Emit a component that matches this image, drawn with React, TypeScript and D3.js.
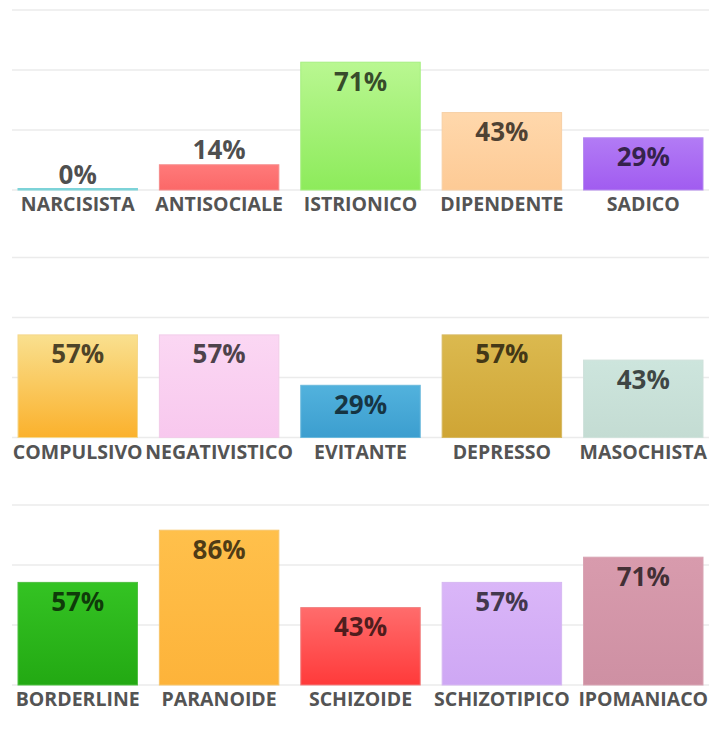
import React from "react";
import * as d3 from "d3";

const categories1 = ["NARCISISTA", "ANTISOCIALE", "ISTRIONICO", "DIPENDENTE", "SADICO"];
const values1 = [0, 14, 71, 43, 29];
const categories2 = ["COMPULSIVO", "NEGATIVISTICO", "EVITANTE", "DEPRESSO", "MASOCHISTA"];
const values2 = [57, 57, 29, 57, 43];
const categories3 = ["BORDERLINE", "PARANOIDE", "SCHIZOIDE", "SCHIZOTIPICO", "IPOMANIACO"];
const values3 = [57, 86, 43, 57, 71];

const gridTicks = [0, 100 / 3, 200 / 3, 100];

const colors1 = [
  ["#7dd3d8", "#7dd3d8", "#7dd3d8"],
  ["#ff7a7a", "#fb6868", "#f58a8a"],
  ["#b9f791", "#8deb5b", "#a6ef80"],
  ["#ffd8ac", "#fdca95", "#f7cfa4"],
  ["#b27bf5", "#a15cf0", "#b58af0"],
];
const colors2 = [
  ["#f9e08f", "#fbb12c", "#f5d88c"],
  ["#fbd7f3", "#f8c8ee", "#f2cce9"],
  ["#52b2dd", "#3c9ecf", "#6ab9dc"],
  ["#dbb94f", "#cfa535", "#d6b860"],
  ["#cde5dd", "#c4dcd3", "#cfe2db"],
];
const colors3 = [
  ["#34c323", "#23a913", "#4fbf42"],
  ["#ffc04b", "#fdb33a", "#f7c56a"],
  ["#ff6c6c", "#ff3a3a", "#f08080"],
  ["#dab6f8", "#cea7f4", "#d6b8f2"],
  ["#d89bad", "#ce90a3", "#d8a4b3"],
];

const panels = [
  { cats: categories1, vals: values1, cols: colors1 },
  { cats: categories2, vals: values2, cols: colors2 },
  { cats: categories3, vals: values3, cols: colors3 },
];

const W = 719;
const H = 735;
const FONT = "'Open Sans', 'Noto Sans', sans-serif";

export default function App() {
  const x = d3
    .scaleBand<number>()
    .domain([0, 1, 2, 3, 4])
    .range([18, 703])
    .paddingInner(0.155)
    .paddingOuter(0);

  return (
    <svg
      width={W}
      height={H}
      style={{ position: "absolute", left: 0, top: 0, background: "#fff" }}
    >
      <defs>
        {panels.map((p, pi) =>
          p.cols.map((c, i) => (
            <linearGradient key={`g${pi}-${i}`} id={`g${pi}-${i}`} x1="0" y1="0" x2="0" y2="1">
              <stop offset="0%" stopColor={c[0]} />
              <stop offset="100%" stopColor={c[1]} />
            </linearGradient>
          ))
        )}
      </defs>
      {panels.map((p, pi) => {
        const top = 10 + 247.5 * pi;
        const base = 190 + 247.5 * pi;
        const y = d3.scaleLinear().domain([0, 100]).range([base, top]);
        return (
          <g key={pi}>
            {gridTicks.map((t, ti) => (
              <line
                key={ti}
                x1={12}
                x2={709}
                y1={y(t)}
                y2={y(t)}
                stroke="#ebebeb"
                strokeWidth={1.5}
              />
            ))}
            {p.vals.map((v, i) => {
              const bx = x(i)!;
              const bw = x.bandwidth();
              const h = base - y(v);
              const hh = Math.max(h, 1.5);
              const inside = h > 40;
              const c = p.cols[i];
              return (
                <g key={i}>
                  <rect
                    x={bx}
                    y={base - hh}
                    width={bw}
                    height={hh}
                    fill={`url(#g${pi}-${i})`}
                    stroke={c[2]}
                    strokeWidth={1}
                  />
                  <text
                    x={bx + bw / 2}
                    y={inside ? y(v) + 28.5 : y(v) - 6}
                    textAnchor="middle"
                    fontFamily={FONT}
                    fontWeight={700}
                    fontSize={26}
                    fill="#000"
                    fillOpacity={0.7}
                  >
                    {`${v}%`}
                  </text>
                  <text
                    x={bx + bw / 2}
                    y={base + 21}
                    textAnchor="middle"
                    fontFamily={FONT}
                    fontWeight={700}
                    fontSize={19.5}
                    fill="#545454"
                  >
                    {p.cats[i]}
                  </text>
                </g>
              );
            })}
          </g>
        );
      })}
    </svg>
  );
}
